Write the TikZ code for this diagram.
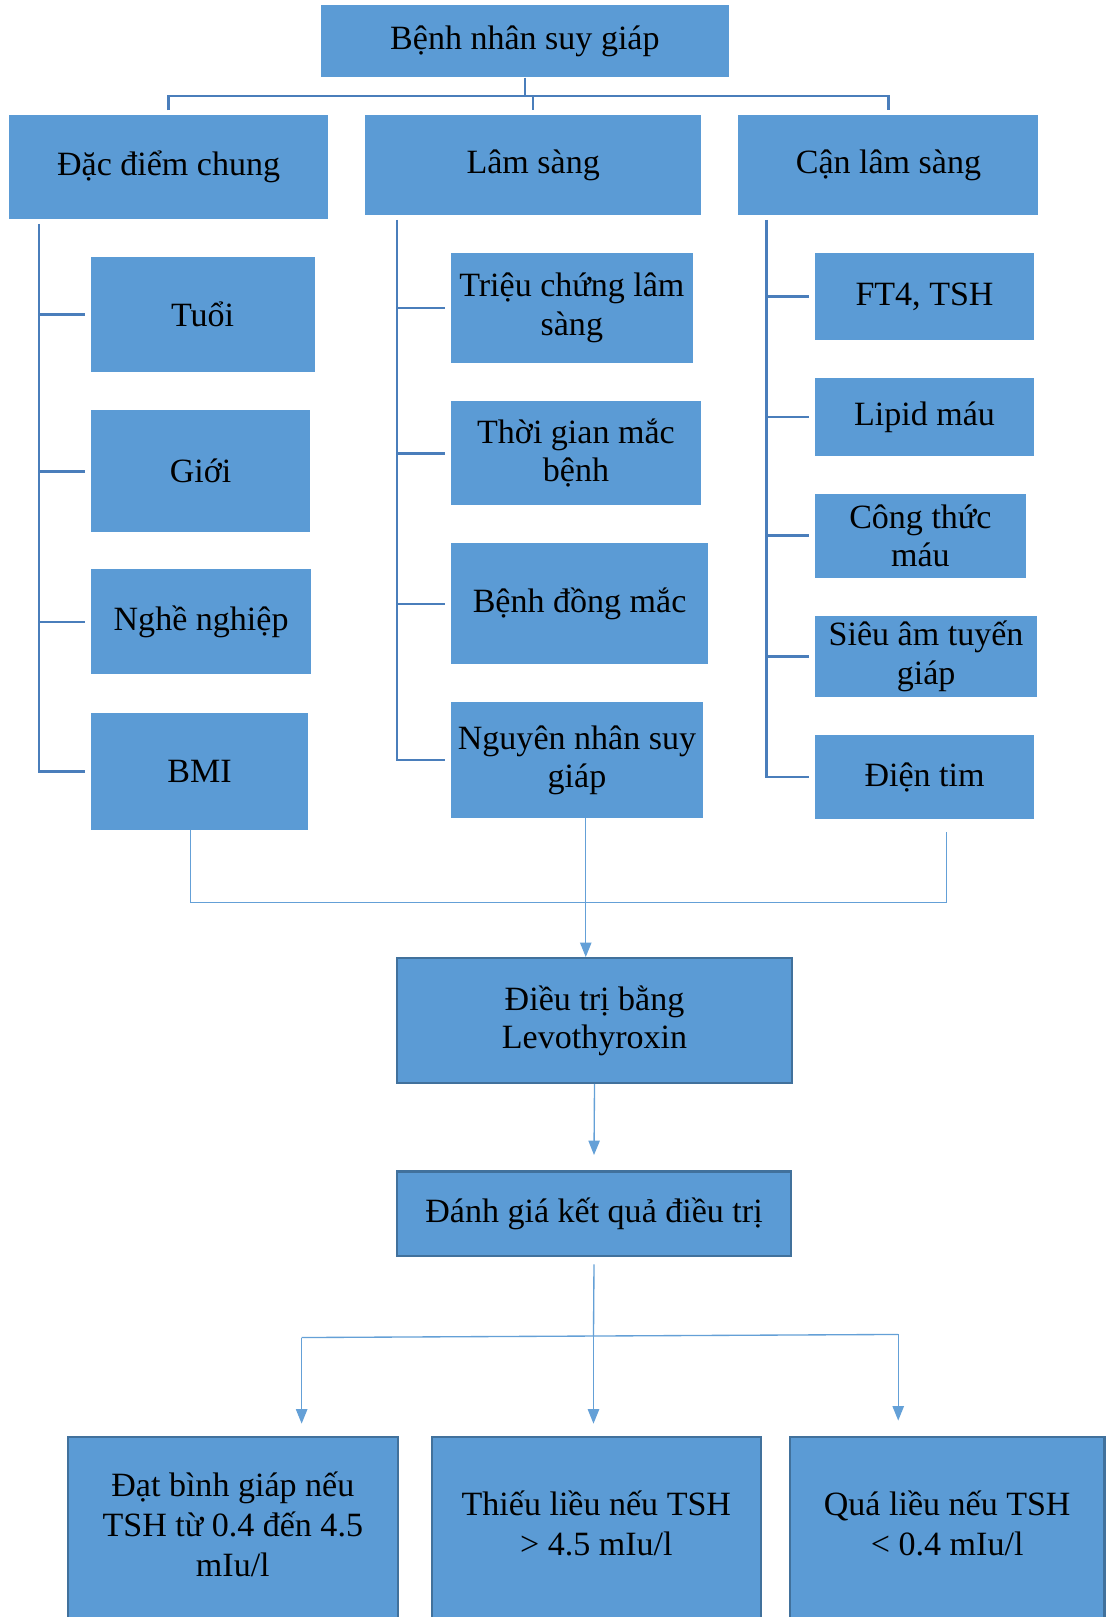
\documentclass[tikz,border=0pt]{standalone}
\usepackage{fontspec}
\setmainfont{Liberation Serif}
\usetikzlibrary{calc,arrows.meta}
\definecolor{boxfill}{RGB}{91,155,213}
\definecolor{boxedge}{RGB}{65,113,156}
\definecolor{treeline}{RGB}{74,126,187}
\definecolor{thinline}{RGB}{100,160,215}
\begin{document}
\begin{tikzpicture}[x=1pt,y=-1pt,
  box/.style={fill=boxfill, inner sep=0pt, align=center, font=\fontsize{33}{37}\selectfont},
  ebox/.style={box, draw=boxedge, line width=2pt},
  txt/.style={inner sep=0pt, align=center, font=\fontsize{33}{38.5}\selectfont},
  tree/.style={draw=treeline, line width=2.5pt},
  thinl/.style={draw=thinline, line width=1.3pt},
  arr/.style={thinl, -{Triangle[length=14pt,width=11pt]}}
]
\useasboundingbox[fill=white] (0,0) rectangle (1072,1568);

% level 1 and 2
\node[box, minimum width=396pt, minimum height=70pt] (top) at (509,40) {Bệnh nhân suy giáp};
\node[box, minimum width=309pt, minimum height=100pt] (dac) at (163.5,162) {Đặc điểm chung};
\node[box, minimum width=326pt, minimum height=96pt] (lam) at (517,160) {Lâm sàng};
\node[box, minimum width=291pt, minimum height=96pt] (can) at (861.5,160) {Cận lâm sàng};

% left column
\node[box, minimum width=217pt, minimum height=112pt] (tuoi) at (196.5,305) {Tuổi};
\node[box, minimum width=213pt, minimum height=118pt] (gioi) at (194.5,457) {Giới};
\node[box, minimum width=214pt, minimum height=102pt] (nghe) at (195,603) {Nghề nghiệp};
\node[box, minimum width=211pt, minimum height=114pt] (bmi) at (193.5,748) {BMI};

% middle column
\node[box, minimum width=235pt, minimum height=107pt] (trieu) at (554.5,298.5) {Triệu chứng lâm\\sàng};
\node[box, minimum width=243pt, minimum height=101pt] (thoi) at (558.5,439.5) {Thời gian mắc\\bệnh};
\node[box, minimum width=250pt, minimum height=117pt] (dong) at (562,585.5) {Bệnh đồng mắc};
\node[box, minimum width=245pt, minimum height=112pt] (nguyen) at (559.5,737) {Nguyên nhân suy\\giáp};

% right column
\node[box, minimum width=213pt, minimum height=85pt] (ft4) at (896.5,287.5) {FT4, TSH};
\node[box, minimum width=213pt, minimum height=75pt] (lipid) at (896.5,404.5) {Lipid máu};
\node[box, minimum width=205pt, minimum height=81pt] (cong) at (892.5,519.5) {Công thức\\máu};
\node[box, minimum width=216pt, minimum height=79pt] (sieu) at (898,636.5) {Siêu âm tuyến\\giáp};
\node[box, minimum width=213pt, minimum height=81pt] (dien) at (896.5,753.5) {Điện tim};

% treatment
\node[ebox, minimum width=383pt, minimum height=121pt] (dieutri) at (576.5,989.5) {Điều trị bằng\\Levothyroxin};
\node[ebox, minimum width=382pt, minimum height=82pt] (danhgia) at (576,1177) {Đánh giá kết quả điều trị};

% results
\node[ebox, minimum width=319.5pt, minimum height=200pt, anchor=north] (r1) at (225.75,1392.5) {};
\node[ebox, minimum width=319.5pt, minimum height=200pt, anchor=north] (r2) at (578.25,1392.5) {};
\node[ebox, minimum width=305pt, minimum height=200pt, anchor=north] (r3) at (918.5,1392.5) {};
\node[txt] (t1) at (225.75,1478) {Đạt bình giáp nếu\\TSH từ 0.4 đến 4.5\\mIu/l};
\node[txt] (t2) at (578.25,1477.5) {Thiếu liều nếu TSH\\> 4.5 mIu/l};
\node[txt] (t3) at (918.5,1477.5) {Quá liều nếu TSH\\< 0.4 mIu/l};

% top tree
\coordinate (h1) at (0,93);
\draw[tree] (top.south) -- (top.south |- h1);
\draw[tree] ($(dac.north)+(0,-5)$) -- (dac.north |- h1) -- (can.north |- h1) -- ($(can.north)+(0,-5)$);
\draw[tree] (lam.north |- h1) -- ($(lam.north)+(0,-5)$);

% left column tree
\coordinate (L) at (38,0);
\draw[tree] ($(dac.south -| L)+(0,5)$) -- (L |- bmi.west) -- ($(bmi.west)+(-5,0)$);
\foreach \n in {tuoi,gioi,nghe}{
  \draw[tree] (L |- \n.west) -- ($(\n.west)+(-5,0)$);
}
% middle column tree
\coordinate (M) at (385,0);
\draw[tree] ($(lam.south -| M)+(0,5)$) -- (M |- nguyen.west) -- ($(nguyen.west)+(-5,0)$);
\foreach \n in {trieu,thoi,dong}{
  \draw[tree] (M |- \n.west) -- ($(\n.west)+(-5,0)$);
}
% right column tree
\coordinate (R) at (743,0);
\draw[tree] ($(can.south -| R)+(0,5)$) -- (R |- dien.west) -- ($(dien.west)+(-5,0)$);
\foreach \n in {ft4,lipid,cong,sieu}{
  \draw[tree] (R |- \n.west) -- ($(\n.west)+(-5,0)$);
}

% merge to treatment
\coordinate (jl) at (185,875);
\coordinate (jm) at (568,875);
\coordinate (jr) at (917.5,875);
\draw[thinl] (bmi.south -| jl) -- (jl) -- (jr) -- ($(dien.south -| jr)+(0,13)$);
\draw[thinl] (nguyen.south -| jm) -- (jm);
\draw[arr] (jm) -- (jm |- dieutri.north);
\draw[arr] (dieutri.south) -- ($(danhgia.north)+(0,-15)$);

% fan to results
\coordinate (f1) at (292.5,1297);
\coordinate (f2) at (575.5,1295.6);
\coordinate (f3) at (871,1294);
\draw[thinl] ($(danhgia.south)+(0,7)$) -- (f2);
\draw[thinl] (f1) -- (f3);
\draw[arr] (f1) -- ($(r1.north -| f1)+(0,-12)$);
\draw[arr] (f2) -- ($(r2.north -| f2)+(0,-12)$);
\draw[arr] (f3) -- ($(r3.north -| f3)+(0,-15)$);
\end{tikzpicture}
\end{document}
